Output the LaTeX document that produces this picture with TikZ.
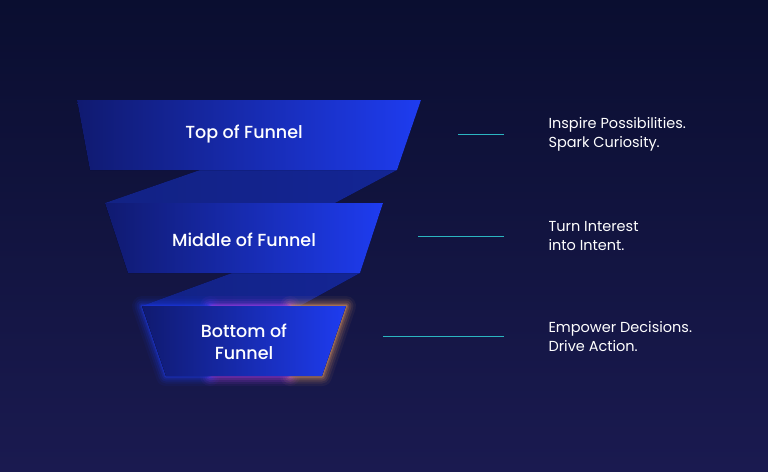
\documentclass[tikz,border=0pt]{standalone}
\usepackage{fontspec}
\setmainfont{Poppins}[BoldFont={Poppins Medium}]
\usetikzlibrary{shadings}
\definecolor{bgtop}{HTML}{0A0E30}
\definecolor{bgbot}{HTML}{1A1A50}
\definecolor{fdark}{HTML}{101A70}
\definecolor{fblue}{HTML}{1E3CF0}
\definecolor{teal}{HTML}{2BB5C0}
\definecolor{glowo}{HTML}{F0A060}
\definecolor{glowp}{HTML}{B040F0}
\tikzset{
  tier/.style={left color=fdark, right color=fblue},
  ribbon/.style={left color=fblue!60!bgtop, right color=fblue!70!bgtop, opacity=0.8},
  lbl/.style={text=white, font=\fontsize{17.5}{22}\selectfont\bfseries, align=center},
  side/.style={text=white, font=\fontsize{14.5}{19}\selectfont, align=left, anchor=west},
  tick/.style={draw=teal, line width=0.8pt},
  glw/.style={line cap=round, line join=round}
}
\begin{document}
\begin{tikzpicture}[x=1pt,y=-1pt]
\shade[top color=bgtop, bottom color=bgbot] (0,0) rectangle (768,471);
\useasboundingbox (0,0) rectangle (768,471);
% ribbons
\fill[ribbon] (200,170) -- (397,170) -- (335,203) -- (105,203) -- cycle;
\fill[ribbon] (232,273) -- (360,273) -- (300,306) -- (142,306) -- cycle;
% glow
\foreach \w/\o in {20/0.06,15/0.09,11/0.12,7/0.16,4/0.22,2/0.3}{
  \draw[glowo, glw, line width=\w pt, opacity=\o] (290,306) -- (346,306) -- (322,376) -- (290,376);
  \draw[glowp, glw, line width=\w pt, opacity=\o] (210,306) -- (290,306);
  \draw[glowp, glw, line width=\w pt, opacity=\o] (210,376) -- (290,376);
  \draw[fblue, glw, line width=\w pt, opacity=\o] (210,306) -- (142,306) -- (166,376) -- (210,376);
}
% tiers
\fill[tier] (77,100) -- (421,100) -- (397,170) -- (90,170) -- cycle;
\fill[tier] (105,203) -- (383,203) -- (360,273) -- (128,273) -- cycle;
\fill[tier] (142,306) -- (346,306) -- (322,376) -- (166,376) -- cycle;
\node[lbl] (t1) at (244,134) {Top of Funnel};
\node[lbl] (t2) at (244,240) {Middle of Funnel};
\node[lbl] (t3) at (244,342) {Bottom of\\Funnel};
\node[side] (s1) at (545,134) {Inspire Possibilities.\\Spark Curiosity.};
\node[side] (s2) at (545,236) {Turn Interest\\into Intent.};
\node[side] (s3) at (545,337) {Empower Decisions.\\Drive Action.};
\coordinate (a1) at (458,134); \coordinate (b1) at (504,134);
\coordinate (a2) at (418,236); \coordinate (b2) at (504,236);
\coordinate (a3) at (383,336); \coordinate (b3) at (504,336);
\draw[tick] (a1) -- (b1);
\draw[tick] (a2) -- (b2);
\draw[tick] (a3) -- (b3);
\end{tikzpicture}
\end{document}
